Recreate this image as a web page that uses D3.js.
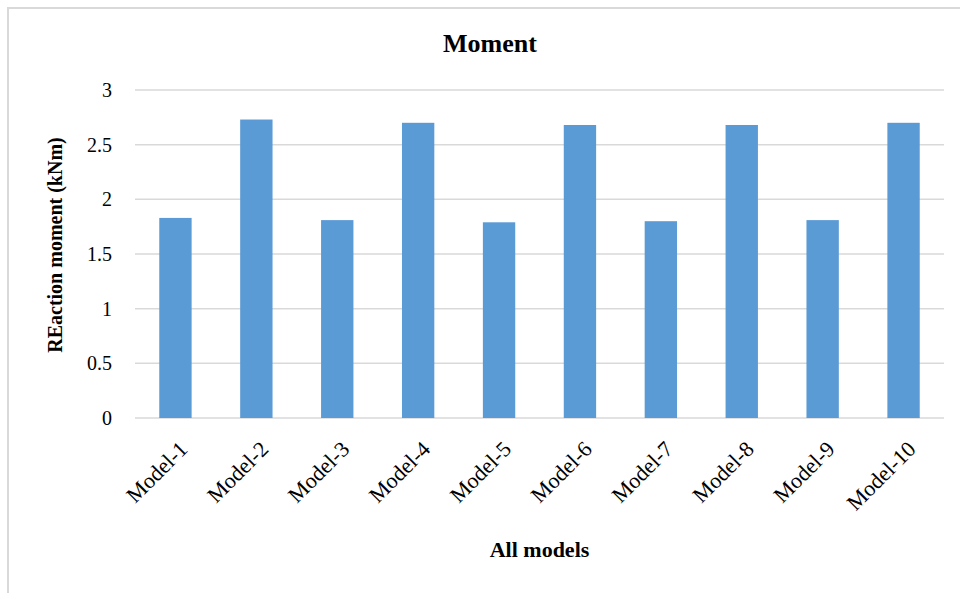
<!DOCTYPE html>
<html>
<head>
<meta charset="utf-8">
<script src="https://cdn.jsdelivr.net/npm/d3@7"></script>
<style>
  html, body { margin: 0; padding: 0; background: #fff; }
  svg { display: block; font-family: "Liberation Serif", "Times New Roman", serif; }
</style>
</head>
<body>
<svg id="chart" width="960" height="593"></svg>
<script>
// Reaction moment per model (kNm)
const categories = ["Model-1", "Model-2", "Model-3", "Model-4", "Model-5",
                    "Model-6", "Model-7", "Model-8", "Model-9", "Model-10"];
const moments = [1.83, 2.73, 1.81, 2.70, 1.79, 2.68, 1.80, 2.68, 1.81, 2.70];
const yTicks = [0, 0.5, 1, 1.5, 2, 2.5, 3];

const svg = d3.select("#chart");
const W = 960, H = 593;
const margin = { left: 135, right: 16, top: 90, bottom: 175 };
const plotW = W - margin.left - margin.right;
const plotH = H - margin.top - margin.bottom;

// chart frame
svg.append("rect")
  .attr("x", 8).attr("y", 8)
  .attr("width", W + 10).attr("height", H + 10)
  .attr("fill", "none").attr("stroke", "#D9D9D9").attr("stroke-width", 2);

const x = d3.scaleBand().domain(categories).range([0, plotW]).paddingInner(0.6).paddingOuter(0.3);
const y = d3.scaleLinear().domain([0, 3]).range([plotH, 0]);

const g = svg.append("g").attr("transform", `translate(${margin.left},${margin.top})`);

// horizontal gridlines
g.append("g")
  .selectAll("line")
  .data(yTicks)
  .join("line")
  .attr("x1", 0).attr("x2", plotW)
  .attr("y1", d => y(d)).attr("y2", d => y(d))
  .attr("stroke", "#D9D9D9").attr("stroke-width", 1.5);

// y axis labels
const yAxis = g.append("g")
  .call(d3.axisLeft(y).tickValues(yTicks).tickSize(0).tickPadding(23).tickFormat(d3.format("~g")));
yAxis.select(".domain").remove();
yAxis.selectAll("text")
  .attr("font-family", "Liberation Serif, Times New Roman, serif")
  .attr("font-size", 20).attr("fill", "#000");

// bars
g.append("g")
  .selectAll("rect")
  .data(categories.map((c, i) => ({ c, v: moments[i] })))
  .join("rect")
  .attr("x", d => x(d.c))
  .attr("width", x.bandwidth())
  .attr("y", d => y(d.v))
  .attr("height", d => y(0) - y(d.v))
  .attr("fill", "#5B9BD5");

// x axis category labels, rotated
const xAxis = g.append("g")
  .attr("transform", `translate(0,${plotH})`)
  .call(d3.axisBottom(x).tickSize(0).tickPadding(0));
xAxis.select(".domain").remove();
xAxis.selectAll("text")
  .attr("font-family", "Liberation Serif, Times New Roman, serif")
  .attr("font-size", 22).attr("fill", "#000")
  .attr("text-anchor", "end")
  .attr("dy", "0.35em")
  .attr("transform", "translate(8,27) rotate(-45)");

// titles
svg.append("text")
  .attr("x", 490).attr("y", 52)
  .attr("text-anchor", "middle")
  .attr("font-size", 26).attr("font-weight", "bold")
  .text("Moment");

svg.append("text")
  .attr("x", margin.left + plotW / 2).attr("y", 557)
  .attr("text-anchor", "middle")
  .attr("font-size", 22).attr("font-weight", "bold")
  .text("All models");

svg.append("text")
  .attr("transform", `translate(62,${margin.top + plotH / 2 - 9}) rotate(-90)`)
  .attr("text-anchor", "middle")
  .attr("font-size", 20).attr("font-weight", "bold")
  .text("REaction moment (kNm)");
</script>
</body>
</html>
